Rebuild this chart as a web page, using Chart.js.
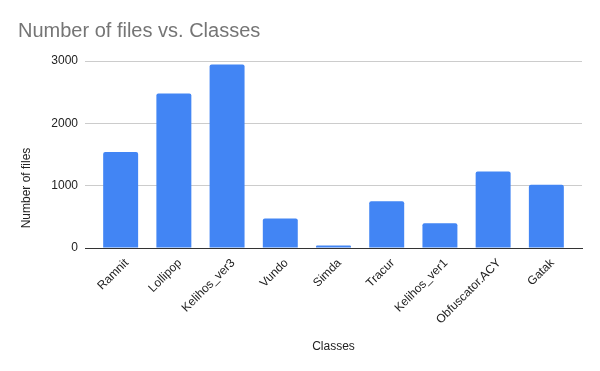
<!DOCTYPE html>
<html>
<head>
<meta charset="utf-8">
<script src="https://cdn.jsdelivr.net/npm/chart.js@4"></script>
<style>
    html, body { margin: 0; padding: 0; background: #fff; }
    #wrap { width: 600px; height: 371px; }
</style>
</head>
<body>
<div id="wrap"><canvas id="filesChart"></canvas></div>
<script>
const classes = ['Ramnit', 'Lollipop', 'Kelihos_ver3', 'Vundo', 'Simda', 'Tracur', 'Kelihos_ver1', 'Obfuscator.ACY', 'Gatak'];
const fileCounts = [1541, 2478, 2942, 475, 42, 751, 398, 1228, 1013];
const yTicks = [0, 1000, 2000, 3000];

const font = 'Arial, "Liberation Sans", sans-serif';
const edgeGap = 0.17; // extra room at both ends of the category axis, in categories

// y axis title sits lower than the plot centre, like the sheets chart
const yTitlePlugin = {
    id: 'yTitle',
    afterDraw(chart) {
        const ctx = chart.ctx;
        const area = chart.chartArea;
        ctx.save();
        ctx.translate(27, area.bottom - 60);
        ctx.rotate(-Math.PI / 2);
        ctx.font = '12px ' + font;
        ctx.fillStyle = '#222222';
        ctx.textAlign = 'center';
        ctx.textBaseline = 'middle';
        ctx.fillText('Number of files', 0, 0);
        ctx.restore();
    }
};

new Chart(document.getElementById('filesChart'), {
    type: 'bar',
    data: {
        labels: classes,
        datasets: [{
            label: 'Number of files',
            data: fileCounts,
            backgroundColor: '#4285f4',
            borderRadius: { topLeft: 2, topRight: 2 },
            borderSkipped: 'bottom',
            categoryPercentage: 1,
            barPercentage: 0.657
        }]
    },
    options: {
        responsive: true,
        maintainAspectRatio: false,
        animation: false,
        layout: { padding: { left: 18, right: 18, top: 0, bottom: 10 } },
        plugins: {
            legend: { display: false },
            tooltip: { enabled: false },
            title: {
                display: true,
                text: 'Number of files vs. Classes',
                align: 'start',
                color: '#757575',
                font: { family: font, size: 20, weight: 'normal' },
                padding: { top: 19, bottom: 18 }
            }
        },
        scales: {
            x: {
                grid: { display: false, drawTicks: false },
                border: { display: true, color: '#333333', width: 1 },
                ticks: {
                    color: '#222222',
                    font: { family: font, size: 12 },
                    minRotation: 45,
                    maxRotation: 45,
                    padding: 8,
                    labelOffset: 6
                },
                title: {
                    display: true,
                    text: 'Classes',
                    color: '#222222',
                    font: { family: font, size: 12 },
                    padding: { top: 0, bottom: 7 }
                },
                afterBuildTicks: (scale) => {
                    scale._startValue = -0.5 - edgeGap;
                    scale._valueRange = classes.length + 2 * edgeGap;
                },
                afterFit: (scale) => { scale.height = 113; }
            },
            y: {
                min: 0,
                max: 3000,
                afterBuildTicks: (scale) => { scale.ticks = yTicks.map(v => ({ value: v })); },
                grid: { color: '#cccccc', drawTicks: false },
                border: { display: false },
                ticks: {
                    color: '#222222',
                    font: { family: font, size: 12 },
                    padding: 7,
                    callback: (v) => String(v)
                },
                title: { display: false },
                afterFit: (scale) => { scale.width = 67; }
            }
        }
    },
    plugins: [yTitlePlugin]
});
</script>
</body>
</html>
